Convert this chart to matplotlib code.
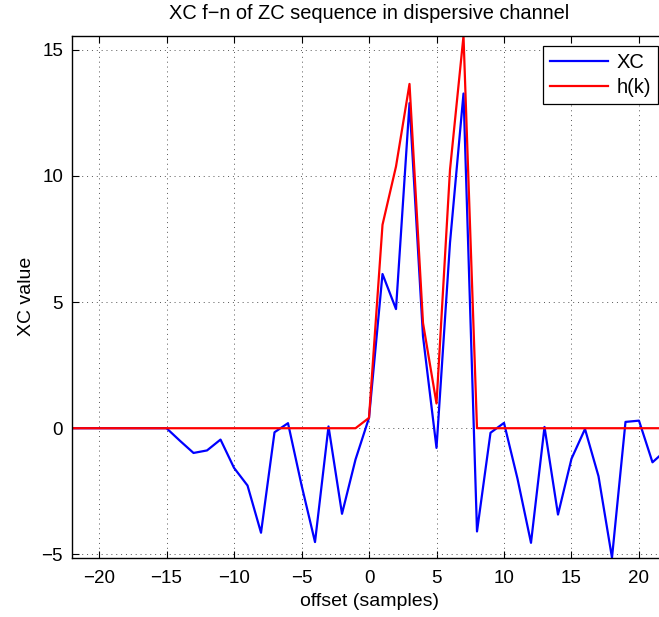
import matplotlib
matplotlib.use("Agg")
import matplotlib.pyplot as plt
import numpy as np

plt.rcParams['font.family'] = ['Liberation Sans', 'DejaVu Sans']

offsets = list(range(-22, 23))
xc_values = [0, 0, 0, 0, 0, 0, 0, 0,           # -22..-15
             -0.5, -0.98, -0.88, -0.45, -1.57, -2.27, -4.14, -0.16, 0.2,   # -14..-6
             -2.25, -4.51, 0.07, -3.39, -1.24,  # -5..-1
             0.41, 6.11, 4.72, 12.88, 3.64, -0.78, 7.35, 13.26, -4.09,   # 0..8
             -0.18, 0.21, -2.0, -4.54, 0.05, -3.42, -1.21, -0.03, -1.9,  # 9..17
             -5.13, 0.25, 0.3, -1.35, -0.87]   # 18..22
h_values = [0] * 21 + [0, 0.41, 8.06, 10.37, 13.64, 4.17, 0.98, 10.24, 15.54, 0] + [0] * 14

title = "XC f\u2212n of ZC sequence in dispersive channel"
xlabel = "offset (samples)"
ylabel = "XC value"
xticks = [-20, -15, -10, -5, 0, 5, 10, 15, 20]
yticks = [-5, 0, 5, 10, 15]

fig = plt.figure(figsize=(6.59, 6.17), dpi=100)
ax = fig.add_axes([0.1093, 0.0961, 0.9013, 0.8456])

ax.plot(offsets, xc_values, color='#0000ff', lw=1.6, label='XC')
ax.plot(offsets, h_values, color='#ff0000', lw=1.6, label='h(k)')

ax.set_xlim(-22, 22)
ax.set_ylim(-5.13, 15.54)
ax.set_xticks(xticks)
ax.set_yticks(yticks)
ax.tick_params(direction='in', top=True, right=True, length=5, width=0.8,
               labelsize=13.5)
ax.tick_params(axis='x', pad=9)
ax.tick_params(axis='y', pad=6.5)
ax.grid(True, linestyle=(0, (1, 4)), color='#555555', lw=0.7)
for s in ax.spines.values():
    s.set_linewidth(1.0)
    s.set_color('black')

ax.set_title(title, fontsize=14.4, pad=12)
ax.set_xlabel(xlabel, fontsize=14, labelpad=4)
ax.set_ylabel(ylabel, fontsize=14, labelpad=5)

leg = ax.legend(loc='upper right', bbox_to_anchor=(0.9865, 0.981), borderaxespad=0,
                fontsize=14.5, fancybox=False, framealpha=1, edgecolor='black',
                handlelength=2.9, handletextpad=0.4, borderpad=0.35,
                labelspacing=0.3)
leg.get_frame().set_linewidth(0.9)

fig.savefig('out.png', dpi=100)
